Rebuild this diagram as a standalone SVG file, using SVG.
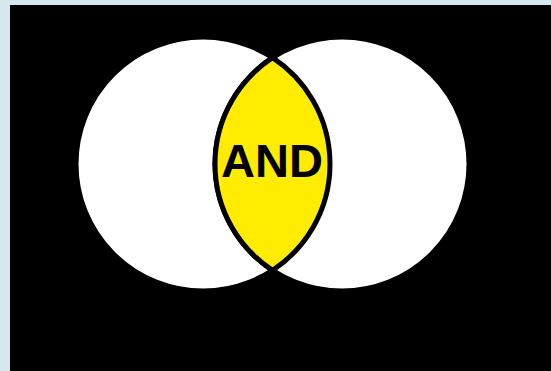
<svg xmlns="http://www.w3.org/2000/svg" width="551" height="371" viewBox="0 0 551 371">
<style>
.c{fill:#ffffff;stroke:#000;stroke-width:5}
.lens{fill:#ffec00;stroke:#000;stroke-width:5}
.t{font-family:"Liberation Sans",Arial,sans-serif;font-weight:bold;font-size:47px;fill:#000;text-anchor:middle}
</style>
<rect width="551" height="371" fill="#d6e7ee"/>
<rect x="10" y="5" width="541" height="366" fill="#000"/>
<g id="left"><circle class="c" cx="203" cy="164" r="127"/></g>
<g id="right"><circle class="c" cx="342" cy="164" r="127"/></g>
<g id="and">
<path class="lens" d="M272.5,57.7 A127,127 0 0 1 272.5,270.3 A127,127 0 0 1 272.5,57.7 Z"/>
<text class="t" x="272" y="177">AND</text>
</g>
</svg>
